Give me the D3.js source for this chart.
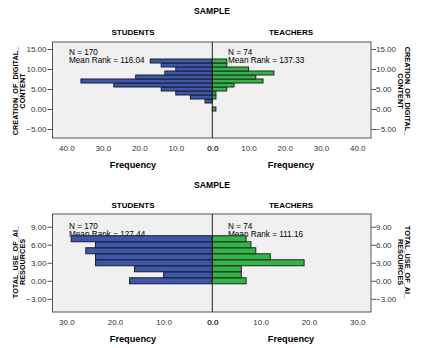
<!DOCTYPE html>
<html><head><meta charset="utf-8">
<script src="https://cdn.jsdelivr.net/npm/d3@7"></script>
<style>
html,body{margin:0;padding:0;background:#fff;}
svg text{font-family:"Liberation Sans",Arial,sans-serif;}
</style></head>
<body><svg id="c" width="423" height="348"></svg>
<script>
// ---- data ----
const groups = ["STUDENTS", "TEACHERS"];
const creationBins = [0,1,2,3,4,5,6,7,8,9,10,11,12];
const creationStudents = [0,0,2,6,10,14,27,36,21,13,10,14,17];
const creationTeachers = [1,0,0,1,1,4,6,14,12,17,10,4,4];
const creationN = [170, 74];
const creationMeanRank = ["116.04", "137.33"];
const creationYTicks = [-5,0,5,10,15];
const creationXTicks = [0,10,20,30,40];

const aiBins = [0,1,2,3,4,5,6,7];
const aiStudents = [17,10,16,24,24,26,24,29];
const aiTeachers = [7,6,6,19,12,9,8,7];
const aiN = [170, 74];
const aiMeanRank = ["127.44", "111.16"];
const aiYTicks = [-3,0,3,6,9];
const aiXTicks = [0,10,20,30];

const svg = d3.select("#c");

function panel(o){
  const g = svg.append("g");
  const x0 = 212.3, left = 52.5, right = 371;
  const y = d3.scaleLinear().domain(o.yDomain).range([o.bottom, o.top]);
  const xl = d3.scaleLinear().domain([0, o.xMax]).range([x0, left]);
  const xr = d3.scaleLinear().domain([0, o.xMax]).range([x0, right]);
  // titles
  g.append("text").attr("x",212).attr("y",o.titleY).attr("text-anchor","middle")
    .attr("font-size","8.6px").attr("font-weight","bold").attr("fill","#000").text("SAMPLE");
  [133, 291].forEach((cx,i)=>{
    g.append("text").attr("x",cx).attr("y",o.groupY).attr("text-anchor","middle")
      .attr("font-size","8px").attr("font-weight","bold").attr("fill","#000").text(groups[i]);
    g.append("text").attr("x",cx).attr("y",o.freqY).attr("text-anchor","middle")
      .attr("font-size","9.2px").attr("font-weight","bold").attr("fill","#000").text("Frequency");
  });
  // plot background
  g.append("rect").attr("x",left).attr("y",o.top).attr("width",right-left).attr("height",o.bottom-o.top)
    .attr("fill","#f0f0f0").attr("stroke","none");
  // annotations (under bars, as in reference)
  const ann = [[69, 0], [228, 1]];
  ann.forEach(([ax,i])=>{
    g.append("text").attr("x",ax).attr("y",o.nY).attr("font-size","8.2px").attr("fill","#000").text("N = " + o.n[i]);
    g.append("text").attr("x",ax).attr("y",o.nY+8).attr("font-size","8.2px").attr("fill","#000").text("Mean Rank = " + o.mr[i]);
  });
  // bars
  const data = o.bins.map((b,i)=>({b, s:o.students[i], t:o.teachers[i]}));
  g.selectAll("rect.s").data(data.filter(d=>d.s>0)).join("rect")
    .attr("x",d=>xl(d.s)).attr("width",d=>x0-xl(d.s))
    .attr("y",d=>y(d.b+0.5)).attr("height",d=>y(d.b-0.5)-y(d.b+0.5))
    .attr("fill","#3d58aa").attr("stroke","#1c1c2a").attr("stroke-width",1);
  g.selectAll("rect.t").data(data.filter(d=>d.t>0)).join("rect")
    .attr("x",x0).attr("width",d=>xr(d.t)-x0)
    .attr("y",d=>y(d.b+0.5)).attr("height",d=>y(d.b-0.5)-y(d.b+0.5))
    .attr("fill","#33b449").attr("stroke","#1c2a1c").attr("stroke-width",1);
  // frame & center line
  g.append("rect").attr("x",left).attr("y",o.top).attr("width",right-left).attr("height",o.bottom-o.top)
    .attr("fill","none").attr("stroke","#555").attr("stroke-width",1);
  g.append("line").attr("x1",x0).attr("x2",x0).attr("y1",o.top).attr("y2",o.bottom)
    .attr("stroke","#222").attr("stroke-width",1);
  // y axes
  const fmtY = d3.format(".2f");
  const ayl = g.append("g").attr("transform",`translate(${left},0)`)
    .call(d3.axisLeft(y).tickValues(o.yTicks).tickFormat(fmtY).tickSize(5).tickPadding(1));
  const ayr = g.append("g").attr("transform",`translate(${right},0)`)
    .call(d3.axisRight(y).tickValues(o.yTicks).tickFormat(fmtY).tickSize(5).tickPadding(0));
  [ayl, ayr].forEach(a=>{
    a.select(".domain").remove();
    a.selectAll("line").attr("stroke","#555");
    a.selectAll("text").attr("font-size","8px").attr("fill","#333").attr("font-family","Liberation Sans, Arial, sans-serif");
  });
  // x axes (labels only)
  const fmtX = d3.format(".1f");
  [xl, xr].forEach(sc=>{
    const ax = g.append("g").attr("transform",`translate(0,${o.bottom})`)
      .call(d3.axisBottom(sc).tickValues(o.xTicks).tickFormat(fmtX).tickSize(0).tickPadding(7));
    ax.select(".domain").remove();
    ax.selectAll("text").attr("font-size","8px").attr("fill","#333").attr("font-family","Liberation Sans, Arial, sans-serif");
  });
  // axis titles
  const cy = o.titleCenter;
  [[15, o.yTitle[0]], [22.5, o.yTitle[1]]].forEach(([tx,txt])=>{
    g.append("text").attr("transform",`translate(${tx},${cy}) rotate(-90)`).attr("text-anchor","middle")
      .attr("dominant-baseline","central").attr("font-size","7.3px").attr("font-weight","bold").attr("fill","#000").text(txt);
  });
  [[407.5, o.yTitle[0]], [400, o.yTitle[1]]].forEach(([tx,txt])=>{
    g.append("text").attr("transform",`translate(${tx},${cy}) rotate(90)`).attr("text-anchor","middle")
      .attr("dominant-baseline","central").attr("font-size","7.3px").attr("font-weight","bold").attr("fill","#000").text(txt);
  });
}

panel({
  bins: creationBins, students: creationStudents, teachers: creationTeachers,
  n: creationN, mr: creationMeanRank, yTicks: creationYTicks, xTicks: creationXTicks,
  yDomain: [-7.25, 16.75], xMax: 43.8, top: 42, bottom: 138,
  titleY: 14, groupY: 35.3, freqY: 168, nY: 55.3, titleCenter: 91,
  yTitle: ["CREATION_OF_DIGITAL_", "CONTENT"]
});
panel({
  bins: aiBins, students: aiStudents, teachers: aiTeachers,
  n: aiN, mr: aiMeanRank, yTicks: aiYTicks, xTicks: aiXTicks,
  yDomain: [-5.2, 11.12], xMax: 32.85, top: 214, bottom: 312,
  titleY: 187.5, groupY: 208.3, freqY: 341.7, nY: 228.5, titleCenter: 262,
  yTitle: ["TOTAL_USE_OF_AI_", "RESOURCES"]
});
</script></body></html>
